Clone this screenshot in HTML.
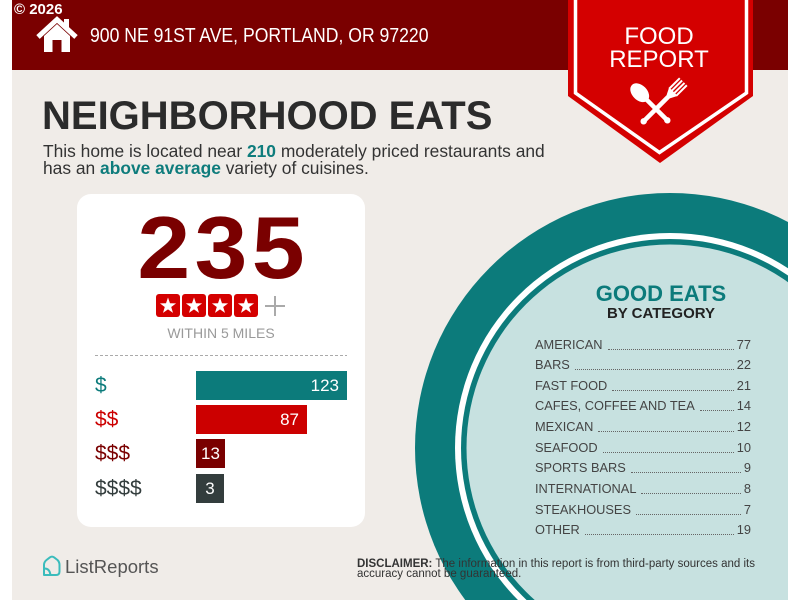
<!DOCTYPE html>
<html><head><meta charset="utf-8">
<style>
html,body{margin:0;padding:0;width:800px;height:600px;overflow:hidden;}
body{position:relative;background:#fff;font-family:"Liberation Sans",Arial,sans-serif;}
.a{position:absolute;white-space:nowrap;}
.bar{position:absolute;left:196px;height:29px;line-height:29px;color:#fff;font-size:17px;}
.lbl{position:absolute;left:95px;height:29px;line-height:29px;font-size:21px;}
#list{position:absolute;left:535px;top:334.5px;width:216px;font-size:12.8px;color:#444;}
#list .r{display:flex;height:20.67px;line-height:20.67px;}
#list .f{flex:1;align-self:flex-start;height:14px;border-bottom:1.3px dotted #666;margin:0 3px 0 5px;}
</style></head><body>
<svg width="800" height="600" style="position:absolute;left:0;top:0" xmlns="http://www.w3.org/2000/svg">
<defs><clipPath id="pg"><rect x="12" y="0" width="776" height="600"/></clipPath></defs>
<g clip-path="url(#pg)">
<rect x="12" y="0" width="776" height="600" fill="#f0ece8"/>
<circle cx="670" cy="448" r="255" fill="#0c7b7b"/>
<circle cx="670" cy="448" r="215" fill="#ffffff"/>
<circle cx="670" cy="448" r="209" fill="#0c7b7b"/>
<circle cx="670" cy="448" r="203.5" fill="#c7e1e0"/>
<rect x="12" y="0" width="776" height="70" fill="#7a0000"/>
</g>
<!-- house icon -->
<polyline points="38,37 57,19.5 76,37" fill="none" stroke="#fff" stroke-width="5"/>
<rect x="64" y="19" width="5" height="10" fill="#fff"/>
<polygon points="44,36 57,24 70,36 70,52 44,52" fill="#fff"/>
<rect x="52.5" y="40" width="9" height="12" fill="#7a0000"/>
<!-- banner -->
<polygon points="568,-2 753,-2 753,96 660,163 568,96" fill="#d40000"/>
<polyline points="575.5,-5 575.5,93 659.5,152.5 746.5,93 746.5,-5" fill="none" stroke="#fff" stroke-width="3.5"/>
<!-- spoon -->
<g transform="translate(668,121) rotate(-45)" fill="#fff">
<line x1="0" y1="0" x2="0" y2="-30" stroke="#fff" stroke-width="4.5" stroke-linecap="round"/>
<circle cx="0" cy="-1" r="3.2"/>
<ellipse cx="0" cy="-40" rx="7.5" ry="11"/>
</g>
<!-- fork -->
<g transform="translate(643,122) rotate(45)" fill="#fff">
<line x1="0" y1="0" x2="0" y2="-38" stroke="#fff" stroke-width="4.5" stroke-linecap="round"/>
<circle cx="0" cy="-1" r="3.2"/>
<path d="M-2.5,-36 L-6,-43 L6,-43 L2.5,-36 Z"/>
<rect x="-6" y="-57" width="2" height="15"/>
<rect x="-2.7" y="-57" width="2" height="15"/>
<rect x="0.7" y="-57" width="2" height="15"/>
<rect x="4" y="-57" width="2" height="15"/>
</g>
<!-- card -->
<rect x="77" y="194" width="288" height="333" rx="14" fill="#ffffff"/>
<!-- stars -->
<g fill="#d40000">
<rect x="156" y="294" width="24" height="23" rx="3"/>
<rect x="182" y="294" width="24" height="23" rx="3"/>
<rect x="208" y="294" width="24" height="23" rx="3"/>
<rect x="234" y="294" width="24" height="23" rx="3"/>
</g>
<g fill="#fff">
<polygon transform="translate(168,306)" points="0,-8.5 2,-2.75 8.08,-2.63 3.23,1.05 5,6.88 0,3.4 -5,6.88 -3.23,1.05 -8.08,-2.63 -2,-2.75"/>
<polygon transform="translate(194,306)" points="0,-8.5 2,-2.75 8.08,-2.63 3.23,1.05 5,6.88 0,3.4 -5,6.88 -3.23,1.05 -8.08,-2.63 -2,-2.75"/>
<polygon transform="translate(220,306)" points="0,-8.5 2,-2.75 8.08,-2.63 3.23,1.05 5,6.88 0,3.4 -5,6.88 -3.23,1.05 -8.08,-2.63 -2,-2.75"/>
<polygon transform="translate(246,306)" points="0,-8.5 2,-2.75 8.08,-2.63 3.23,1.05 5,6.88 0,3.4 -5,6.88 -3.23,1.05 -8.08,-2.63 -2,-2.75"/>
</g>
<rect x="265" y="305" width="20" height="2" fill="#aaa"/>
<rect x="274" y="296" width="2" height="20" fill="#aaa"/>
<line x1="95" y1="355.5" x2="347" y2="355.5" stroke="#aaa" stroke-width="1" stroke-dasharray="3,2"/>
<!-- ListReports icon -->
<path d="M44,575 L44,565 Q44,562 46.5,560 L50,557.3 Q52,556 54,557.3 L57.5,560 Q59.5,562 59.5,565 L59.5,571.5 Q59.5,575 56,575 Z" fill="none" stroke="#3bbcbc" stroke-width="2" stroke-linejoin="round"/>
<path d="M44,568.5 Q49.5,568 50.5,575" fill="none" stroke="#3bbcbc" stroke-width="2"/>
</svg>

<div class="a" style="left:14px;top:2.3px;font-size:15px;line-height:15px;font-weight:bold;color:#fff;">© 2026</div>
<div class="a" style="left:90px;top:26px;font-size:20px;line-height:20px;color:#fff;transform:scaleX(0.88);transform-origin:0 0;">900 NE 91ST AVE, PORTLAND, OR 97220</div>
<div class="a" style="left:579px;width:160px;text-align:center;top:24.7px;font-size:24px;line-height:24px;color:#fff;">FOOD</div>
<div class="a" style="left:579px;width:160px;text-align:center;top:47.7px;font-size:24px;line-height:24px;color:#fff;">REPORT</div>

<div class="a" style="left:42px;top:96px;font-size:40px;line-height:40px;font-weight:bold;color:#2b2b2b;">NEIGHBORHOOD EATS</div>
<div class="a" style="left:43px;top:143px;font-size:17.4px;line-height:16.5px;color:#333;">This home is located near <b style="color:#0e7c7c">210</b> moderately priced restaurants and<br>has an <b style="color:#0e7c7c">above average</b> variety of cuisines.</div>

<div class="a" style="left:77px;width:288px;text-align:center;top:203.5px;font-size:88px;line-height:88px;font-weight:bold;color:#7a0000;letter-spacing:4px;padding-left:4px;box-sizing:border-box;transform:scaleX(1.08);">235</div>
<div class="a" style="left:77px;width:288px;text-align:center;top:326px;font-size:14px;line-height:14px;color:#9a9a9a;">WITHIN 5 MILES</div>

<div class="lbl" style="top:371px;color:#0c7b7b;">$</div>
<div class="lbl" style="top:405px;color:#cc0000;">$$</div>
<div class="lbl" style="top:439px;color:#7a0000;">$$$</div>
<div class="lbl" style="top:474px;color:#333d3d;">$$$$</div>
<div class="bar" style="top:371px;width:151px;background:#0c7b7b;text-align:right;padding-right:8px;box-sizing:border-box;">123</div>
<div class="bar" style="top:405px;width:111px;background:#cc0000;text-align:right;padding-right:8px;box-sizing:border-box;">87</div>
<div class="bar" style="top:439px;width:29px;background:#7a0000;text-align:center;">13</div>
<div class="bar" style="top:474px;width:28px;background:#333d3d;text-align:center;">3</div>

<div class="a" style="left:561px;width:200px;text-align:center;top:283.4px;font-size:22px;line-height:22px;font-weight:bold;color:#0c7b7b;">GOOD EATS</div>
<div class="a" style="left:561px;width:200px;text-align:center;top:306.3px;font-size:15px;line-height:15px;font-weight:bold;color:#222;">BY CATEGORY</div>

<div id="list">
<div class="r"><span>AMERICAN</span><span class="f"></span><span>77</span></div>
<div class="r"><span>BARS</span><span class="f"></span><span>22</span></div>
<div class="r"><span>FAST FOOD</span><span class="f"></span><span>21</span></div>
<div class="r"><span>CAFES, COFFEE AND TEA</span><span class="f"></span><span>14</span></div>
<div class="r"><span>MEXICAN</span><span class="f"></span><span>12</span></div>
<div class="r"><span>SEAFOOD</span><span class="f"></span><span>10</span></div>
<div class="r"><span>SPORTS BARS</span><span class="f"></span><span>9</span></div>
<div class="r"><span>INTERNATIONAL</span><span class="f"></span><span>8</span></div>
<div class="r"><span>STEAKHOUSES</span><span class="f"></span><span>7</span></div>
<div class="r"><span>OTHER</span><span class="f"></span><span>19</span></div>
</div>

<div class="a" style="left:65px;top:558.3px;font-size:18.5px;line-height:18.5px;color:#555;">ListReports</div>
<div class="a" style="left:357px;top:559px;font-size:11.5px;line-height:10.3px;color:#333;"><b>DISCLAIMER:</b> The information in this report is from third-party sources and its<br>accuracy cannot be guaranteed.</div>
</body></html>
